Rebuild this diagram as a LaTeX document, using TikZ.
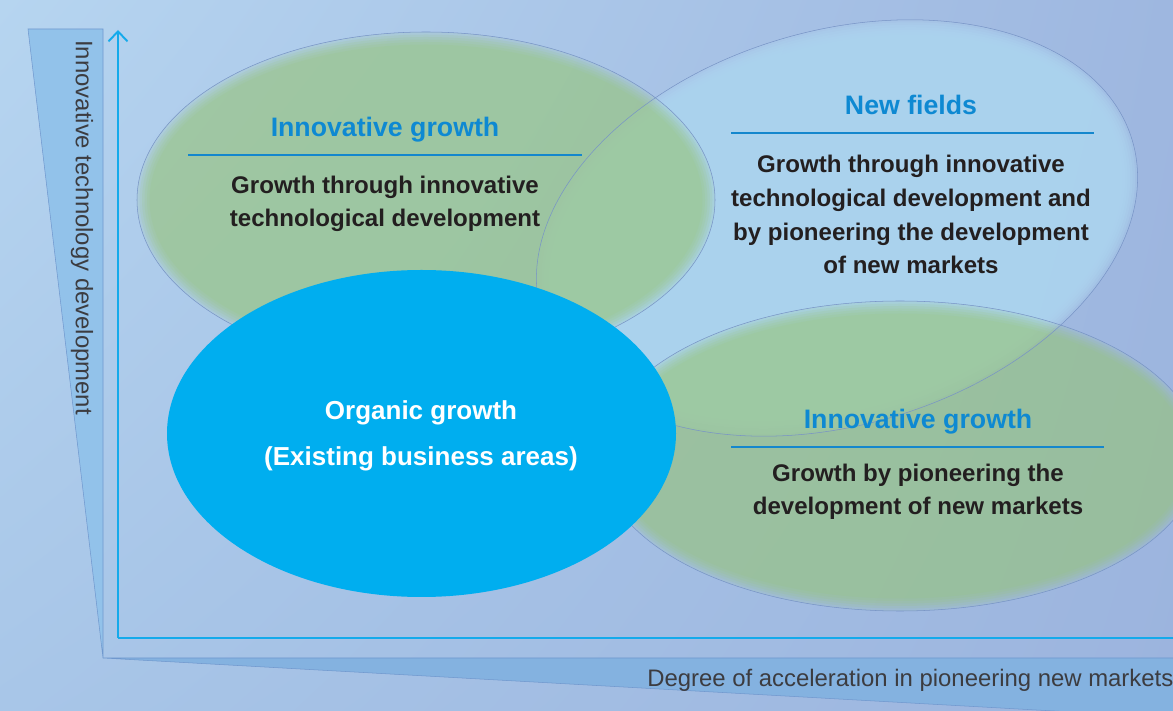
\documentclass[tikz,border=0pt]{standalone}
\usepackage{fontspec}
\setmainfont{Liberation Sans}
\usetikzlibrary{arrows.meta, shadings}

\begin{document}
\begin{tikzpicture}[x=0.02cm, y=0.02cm,
  title/.style={font=\bfseries\fontsize{15.2}{18}\selectfont, text=titleblue, anchor=base, inner sep=0pt},
  body/.style={font=\bfseries\fontsize{13.7}{19.3}\selectfont, text=bodytext, align=center, anchor=base, inner sep=0pt},
  axislabel/.style={font=\fontsize{13.6}{16}\selectfont, text=labeltext, inner sep=0pt},
  rim/.style={draw=rimline, line width=0.3pt},
  rule/.style={draw=ruleblue, line width=0.6pt},
  axis/.style={draw=axisblue, line width=1.1pt}]

  \definecolor{bgTL}{RGB}{182,213,240}
  \definecolor{bgTR}{RGB}{158,183,224}
  \definecolor{bgBL}{RGB}{168,198,232}
  \definecolor{bgBR}{RGB}{156,180,222}
  \definecolor{wedgeV}{RGB}{146,194,234}
  \definecolor{wedgeH}{RGB}{132,178,224}
  \definecolor{wedgeEdge}{RGB}{112,152,206}
  \definecolor{axisblue}{RGB}{20,170,235}
  \definecolor{newfield}{RGB}{173,213,240}
  \definecolor{innogreen}{RGB}{152,198,122}
  \definecolor{rimline}{RGB}{120,148,198}
  \definecolor{organic}{RGB}{0,174,239}
  \definecolor{titleblue}{RGB}{14,137,210}
  \definecolor{ruleblue}{RGB}{20,135,205}
  \definecolor{bodytext}{RGB}{35,31,32}
  \definecolor{labeltext}{RGB}{60,60,64}

  \useasboundingbox (0,0) rectangle (1173,710);
  \clip (0,0) rectangle (1173,710);
  \shade[upper left=bgTL, upper right=bgTR, lower left=bgBL, lower right=bgBR] (0,0) rectangle (1173,710);

  % wedges behind the axes
  \draw[fill=wedgeV, draw=wedgeEdge, line width=0.3pt] (28,681) -- (103,52) -- (103,681) -- cycle;
  \draw[fill=wedgeH, draw=wedgeEdge, line width=0.3pt] (103,52) -- (1180,52) -- (1180,-8) -- cycle;

  \coordinate (origin) at (118,72);
  \coordinate (ytip) at (118,680);
  \coordinate (xend) at (1180,72);
  \draw[axis, -{Straight Barb[length=2mm, width=3.8mm]}] (origin) -- (ytip);
  \draw[axis] (origin) -- (xend);

  \node[axislabel, rotate=-90, anchor=west] (ylabel) at (82,670) {Innovative technology development};
  \node[axislabel, anchor=base west] (xlabel) at (647,24) {Degree of acceleration in pioneering new markets};

  \pgfmathsetmacro{\fadestep}{2.5}

  % soft edged regions
  \begin{scope}[shift={(837,482)}, rotate=16.5]
    \foreach \k in {0,...,6}
      \fill[newfield, opacity=0.3] (0,0) ellipse ({308-\k*\fadestep} and {197-\k*\fadestep});
  \end{scope}
  \foreach \cx/\cy/\rx/\ry in {426/510/289/168, 900/254/300/155}{
    \foreach \k in {0,...,5}
      \fill[innogreen, opacity=0.15] (\cx,\cy) ellipse ({\rx-\k*\fadestep} and {\ry-\k*\fadestep});
  }
  \draw[rim] (426,510) ellipse (289 and 168);
  \draw[rim] (900,254) ellipse (300 and 155);
  \draw[rim, shift={(837,482)}, rotate=16.5] (0,0) ellipse (308 and 197);

  \fill[organic] (421.5,276.5) ellipse (254.5 and 163.5);

  % texts (base = last line)
  \node[title] (titleLeft) at (385,573) {Innovative growth};
  \draw[rule] (188,555) -- (582,555);
  \node[body] (bodyLeft) at (385,483) {Growth through innovative\\technological development};

  \node[title] (titleNew) at (911,595) {New fields};
  \draw[rule] (731,577) -- (1094,577);
  \node[body] (bodyNew) at (911,436) {Growth through innovative\\technological development and\\by pioneering the development\\of new markets};

  \node[title] (titleRight) at (918,281) {Innovative growth};
  \draw[rule] (731,263) -- (1104,263);
  \node[body] (bodyRight) at (918,195) {Growth by pioneering the\\development of new markets};

  \node[body, text=white, font=\bfseries\fontsize{14.8}{26.4}\selectfont] (organicText) at (421,244) {Organic growth\\(Existing business areas)};
\end{tikzpicture}
\end{document}
